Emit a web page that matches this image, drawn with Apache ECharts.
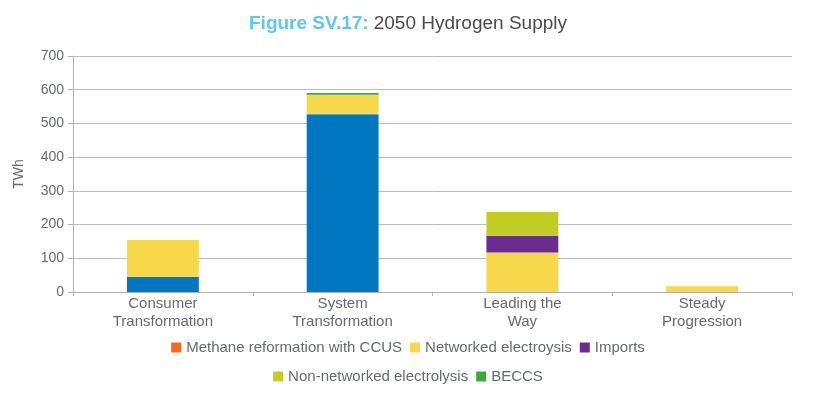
<!DOCTYPE html>
<html><head><meta charset="utf-8">
<script src="https://cdn.jsdelivr.net/npm/echarts@6/dist/echarts.min.js"></script>
<style>html,body{margin:0;padding:0;background:#fff}#c{width:816px;height:397px}</style>
</head><body><div id="c"></div>
<script>
var categories = ['Consumer\nTransformation', 'System\nTransformation', 'Leading the\nWay', 'Steady\nProgression'];
var methane = [45, 527, 0, 0];
var networked = [109, 58, 117, 17];
var imports = [0, 0, 50, 0];
var nonNetworked = [0, 0, 70, 0];
var beccs = [0, 5, 0, 0];
var yTicks = [0, 100, 200, 300, 400, 500, 600, 700];

var FONT = '"Liberation Sans Narrow", "Liberation Sans", Arial, sans-serif';
var FONT2 = '"Liberation Sans", Arial, sans-serif';
var txt = '#666a70';
var names = ['Methane reformation with CCUS', 'Networked electroysis', 'Imports', 'Non-networked electrolysis', 'BECCS'];
var colors = ['#0077c0', '#f6d84a', '#6a2c8f', '#c2cd23', '#3aaa35'];
var datasets = [methane, networked, imports, nonNetworked, beccs];

var chart = echarts.init(document.getElementById('c'), null, {renderer: 'canvas'});
chart.setOption({
  animation: false,
  title: {
    text: '{a|Figure SV.17:} {b|2050 Hydrogen Supply}',
    left: 'center', top: 9,
    textStyle: {
      rich: {
        a: {color: '#5bc8f0', fontSize: 19, fontWeight: 'bold', fontFamily: FONT},
        b: {color: '#4a4a50', fontSize: 19, fontWeight: 'normal', fontFamily: FONT}
      }
    }
  },
  legend: [{
    top: 335, left: 'center', itemWidth: 10, itemHeight: 10, itemGap: 8,
    icon: 'rect',
    textStyle: {color: txt, fontSize: 15, fontFamily: FONT2},
    data: [{name: names[0], itemStyle: {color: '#f26b21'}}, names[1], names[2]]
  }, {
    top: 364, left: 'center', itemWidth: 10, itemHeight: 10, itemGap: 8,
    icon: 'rect',
    textStyle: {color: txt, fontSize: 15, fontFamily: FONT2},
    data: [names[3], names[4]]
  }],
  grid: {left: 73, right: 24, top: 56, bottom: 105},
  xAxis: {
    type: 'category', data: categories,
    axisLine: {lineStyle: {color: '#b0b0b0'}},
    axisTick: {show: true, length: 4, lineStyle: {color: '#b0b0b0'}},
    axisLabel: {color: txt, fontSize: 15, fontFamily: FONT2, lineHeight: 18, margin: 3}
  },
  yAxis: {
    type: 'value', min: 0, max: 700, interval: 100,
    name: 'TWh', nameLocation: 'middle', nameGap: 47, nameRotate: 90,
    nameTextStyle: {color: txt, fontSize: 14, fontFamily: FONT2},
    axisLine: {show: true, lineStyle: {color: '#b0b0b0'}},
    axisTick: {show: true, length: 5, lineStyle: {color: '#b0b0b0'}},
    axisLabel: {color: txt, fontSize: 14, fontFamily: FONT2, margin: 9,
      formatter: function (v) { return yTicks.indexOf(v) >= 0 ? String(v) : ''; }},
    splitLine: {lineStyle: {color: '#bdbdbd', width: 1}}
  },
  series: datasets.map(function (d, i) {
    return {
      name: names[i], type: 'bar', stack: 'total', data: d,
      barWidth: '40%',
      itemStyle: {color: colors[i]}
    };
  })
});
</script></body></html>
